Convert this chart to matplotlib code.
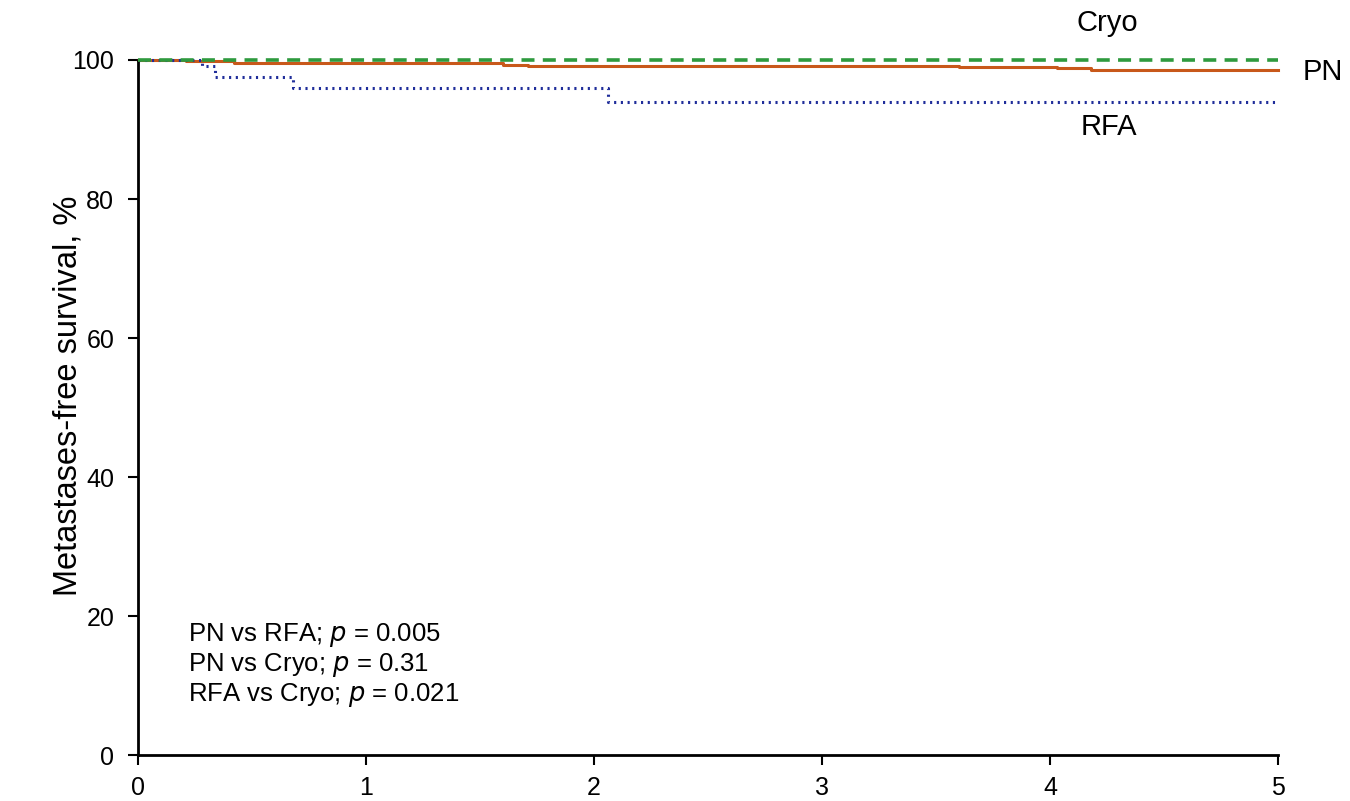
import matplotlib
matplotlib.use("Agg")
import matplotlib.pyplot as plt

plt.rcParams['font.family'] = ['Liberation Sans', 'DejaVu Sans']

# Kaplan-Meier step data (time in years, survival %)
pn_t = [0, 0.21, 0.42, 0.93, 1.60, 1.71, 2.62, 3.60, 4.03, 4.18, 5.0]
pn_s = [100, 99.9, 99.6, 99.5, 99.3, 99.2, 99.1, 99.0, 98.8, 98.5, 98.5]
rfa_t = [0, 0.28, 0.34, 0.68, 2.06, 5.0]
rfa_s = [100, 99.1, 97.6, 96.0, 94.0, 94.0]
cryo_t = [0, 5.0]
cryo_s = [100, 100]

xticks = [0, 1, 2, 3, 4, 5]
yticks = [0, 20, 40, 60, 80, 100]
pvals = ["PN vs RFA; $\\it{p}$ = 0.005", "PN vs Cryo; $\\it{p}$ = 0.31", "RFA vs Cryo; $\\it{p}$ = 0.021"]

fig = plt.figure(figsize=(13.5, 8.01), dpi=100)
ax = fig.add_axes([0.1022, 0.0574, 0.8444, 0.8677])

ax.step(cryo_t, cryo_s, where='post', color='#2e9a3e', lw=2.6, ls=(0, (3.6, 2.3)), clip_on=False, zorder=3)
ax.step(pn_t, pn_s, where='post', color='#c8581a', lw=2.2, clip_on=False, zorder=2)
ax.step(rfa_t, rfa_s, where='post', color='#1f2d9a', lw=2.2, ls=(0, (0.7, 1.5)), clip_on=False, zorder=2)

ax.set_xlim(0, 5)
ax.set_ylim(0, 100)
ax.set_xticks(xticks)
ax.set_yticks(yticks)
ax.tick_params(direction='out', length=7, width=1.5, labelsize=18)
ax.tick_params(axis='y', pad=10)
ax.tick_params(axis='x', pad=8)
for s in ['top', 'right']:
    ax.spines[s].set_visible(False)
for s in ['left', 'bottom']:
    ax.spines[s].set_linewidth(2)
ax.set_ylabel("Metastases-free survival, %", fontsize=23.5)
ax.yaxis.set_label_coords(-0.048, 0.517)

ax.text(4.25, 105.3, "Cryo", fontsize=21, ha='center', va='center')
ax.text(5.11, 98.3, "PN", fontsize=21, ha='left', va='center')
ax.text(4.26, 90.4, "RFA", fontsize=21, ha='center', va='center')

ax.text(0.22, 19.3, "\n".join(pvals), fontsize=18.5, ha='left', va='top', linespacing=1.1)

fig.savefig("out.png", dpi=100)
